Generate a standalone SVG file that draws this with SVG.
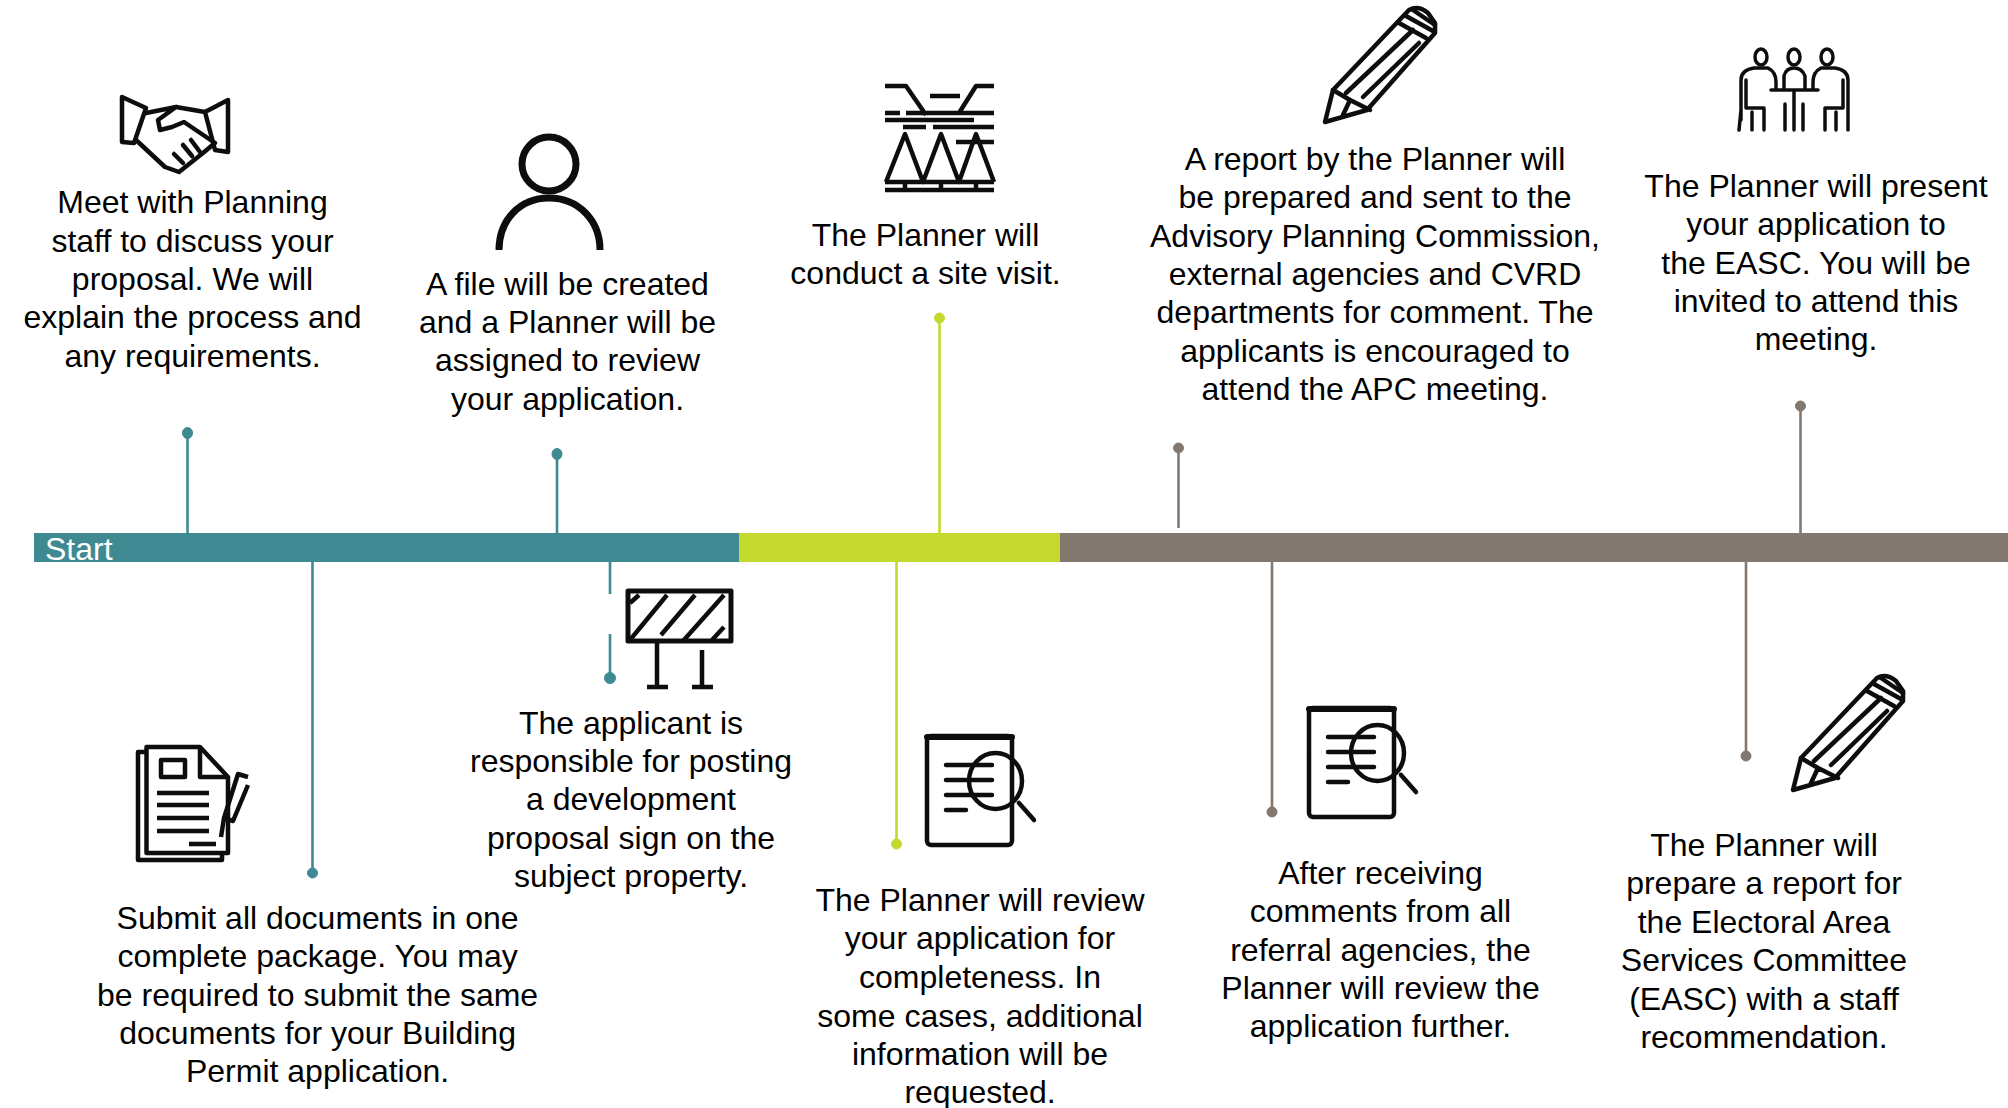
<svg xmlns="http://www.w3.org/2000/svg" xmlns:xlink="http://www.w3.org/1999/xlink" width="2008" height="1108" viewBox="0 0 2008 1108">
<style>
text{font-family:"Liberation Sans",Arial,sans-serif;font-size:32px;fill:#000}
.b text,text.b{text-anchor:middle}
.ic{fill:none;stroke:#111;stroke-width:4.500;stroke-linecap:round;stroke-linejoin:round;filter:url(#soft)}
.t{stroke:#3f8a92;fill:#3f8a92}.g{stroke:#c4d92e;fill:#c4d92e}.r{stroke:#82786f;fill:#82786f}
.st{stroke-width:2.6;fill:none}
</style>
<defs>
<filter id="soft" x="-5%" y="-5%" width="110%" height="110%"><feGaussianBlur stdDeviation="0.6"/></filter>
<clipPath id="signclip"><rect x="626" y="591" width="105" height="50"/></clipPath>
<g id="pencil">
<path d="M0 115L8 83L84 3Q93 -2 103 6L110 16V26L42 103Z"/>
<path d="M8 83L25 93L45 103M25 93L18 108M21 86L88 23M38 90L94 36M74 16L101 31M81 9L108 24M88 3L110 18"/>
</g>
<g id="magdoc">
<rect x="1" y="1" width="85" height="109" rx="4"/>
<path d="M1 2H86" stroke-width="6"/>
<path d="M20 30H66M20 45H66M20 60H66M20 75H40"/>
<ellipse cx="69.500" cy="46" rx="26.500" ry="28"/>
<path d="M93 68L108 85"/>
</g>
</defs>
<g id="connectors">
<g class="t">
<path class="st" d="M187.500 433V533M557 454V533M312.500 562V873M610 562V594M610 634V678"/>
<ellipse cx="187.500" cy="433" rx="5" ry="5.500"/><ellipse cx="557" cy="454" rx="5" ry="5.500"/><circle cx="312.500" cy="873" r="5"/><ellipse cx="610" cy="678" rx="5.500" ry="5.500"/>
</g>
<g class="g">
<path class="st" d="M939.500 318V533M896.500 562V844"/>
<circle cx="939.500" cy="318" r="5"/><circle cx="896.500" cy="844" r="5"/>
</g>
<g class="r">
<path class="st" d="M1178.500 448V528M1800.500 406V533M1272 562V812M1746 562V756"/>
<circle cx="1178.500" cy="448" r="5"/><circle cx="1800.500" cy="406" r="5"/><circle cx="1272" cy="812" r="5"/><circle cx="1746" cy="756" r="5"/>
</g>
</g>
<g id="timeline">
<rect x="34" y="533" width="705" height="29" fill="#3f8a92"/>
<rect x="739" y="533" width="321" height="29" fill="#c4d92e"/>
<rect x="1060" y="533" width="948" height="29" fill="#82786f"/>
<text x="45" y="560" style="fill:#fff">Start</text>
</g>
<g id="n1" class="b">
<g class="ic"><path d="M122 97L146 108L134 143L122 142ZM228 100L205 112L215 150L228 152Z"/><path d="M146 113L176 107L205 112M176 107L158 120L160 130L172 127L184 122L215 143M136 140L165 167L179 172L203 153L215 143M174 154L183 163M183 145L192 156M191 140L200 152"/></g>
<text x="192.500" y="213">Meet with Planning</text><text x="192.500" y="252">staff to discuss your</text><text x="192.500" y="290">proposal. We will</text><text x="192.500" y="328">explain the process and</text><text x="192.500" y="366.600">any requirements.</text>
</g>
<g id="n2" class="b">
<g class="ic" style="stroke-width:7;stroke-linecap:butt"><circle cx="549" cy="164" r="27"/><path d="M499 250C499 220 520 198 549 198S600 220 600 250"/></g>
<text x="567.500" y="295">A file will be created</text><text x="567.500" y="333">and a Planner will be</text><text x="567.500" y="371">assigned to review</text><text x="567.500" y="410">your application.</text>
</g>
<g id="n3" class="b">
<g class="ic" style="stroke-linecap:butt"><path d="M885 86H906L926 115M994 86H976L959 113M930 96H960M885 113H900M906 113H994M885 120H974M903 127H926M933 127H994M956 142H994"/><path d="M886 182L905 134L923 182L941 134L959 182L976 134L994 182"/><path d="M885 182H994M885 190H994M905 182V190M941 182V190M976 182V190"/></g>
<text x="925.500" y="246">The Planner will</text><text x="925.500" y="284">conduct a site visit.</text>
</g>
<g id="n4" class="b">
<use xlink:href="#pencil" href="#pencil" x="1325" y="7" class="ic"/>
<text x="1375" y="170">A report by the Planner will</text><text x="1375" y="208.400">be prepared and sent to the</text><text x="1375" y="246.800">Advisory Planning Commission,</text><text x="1375" y="285.200">external agencies and CVRD</text><text x="1375" y="323">departments for comment. The</text><text x="1375" y="362">applicants is encouraged to</text><text x="1375" y="400.400">attend the APC meeting.</text>
</g>
<g id="n5" class="b">
<g class="ic" style="stroke-width:3.500"><ellipse cx="1761" cy="57" rx="6" ry="8"/><ellipse cx="1794" cy="57" rx="6" ry="8"/><ellipse cx="1827" cy="57" rx="6" ry="8"/><path d="M1741 120V80Q1741 70 1754 68H1768Q1776 72 1776 82V88M1848 120V80Q1848 70 1835 68H1821Q1813 72 1813 82V88M1784 88V76Q1786 68 1794 68T1805 76V88M1746 80V108H1764V130M1843 80V108H1825V130M1771 90H1818M1794 90V130M1785 130V104M1803 130V104M1741 110L1739 130M1848 110L1848 130M1752 112V130M1836 112V130"/></g>
<text x="1816" y="197">The Planner will present</text><text x="1816" y="235.400">your application to</text><text x="1816" y="273.800">the EASC. You will be</text><text x="1816" y="312.200">invited to attend this</text><text x="1816" y="349.600">meeting.</text>
</g>
<g id="n6" class="b">
<g class="ic" style="stroke-linecap:butt"><path d="M146 752H138V860H222V853"/><path d="M146.500 747H200L228 777V853H146.500Z"/><path d="M200 747V777H228M161 760H185V777H161Z"/><path d="M157 793H209M157 805H209M157 818H209M157 831H209M189 844H216"/><path d="M221 837L224 818L238 774L248 777M224 818L233 821L248 785"/></g>
<text x="317.600" y="929">Submit all documents in one</text><text x="317.600" y="967.400">complete package. You may</text><text x="317.600" y="1005.800">be required to submit the same</text><text x="317.600" y="1044.200">documents for your Building</text><text x="317.600" y="1081.600">Permit application.</text>
</g>
<g id="n7" class="b">
<g class="ic" style="stroke-linecap:butt"><rect x="628" y="591" width="103" height="50" style="stroke-width:5"/><g clip-path="url(#signclip)"><path d="M630 603L639 595M630 640L667 595M661 635L695 595M683 641L724 595M712 640L724 627"/></g><path d="M657 642V686M702 650V686M647 687H668M692 687H713"/></g>
<text x="631" y="734">The applicant is</text><text x="631" y="772">responsible for posting</text><text x="631" y="810">a development</text><text x="631" y="849">proposal sign on the</text><text x="631" y="887">subject property.</text>
</g>
<g id="n8" class="b">
<use xlink:href="#magdoc" href="#magdoc" x="926" y="735" class="ic"/>
<text x="980" y="911">The Planner will review</text><text x="980" y="949.400">your application for</text><text x="980" y="987.800">completeness. In</text><text x="980" y="1026.600">some cases, additional</text><text x="980" y="1064.600">information will be</text><text x="980" y="1102.500">requested.</text>
</g>
<g id="n9" class="b">
<use xlink:href="#magdoc" href="#magdoc" x="1308" y="707" class="ic"/>
<text x="1380.500" y="883.600">After receiving</text><text x="1380.500" y="922">comments from all</text><text x="1380.500" y="961">referral agencies, the</text><text x="1380.500" y="998.800">Planner will review the</text><text x="1380.500" y="1037.200">application further.</text>
</g>
<g id="n10" class="b">
<use xlink:href="#pencil" href="#pencil" x="1793" y="675" class="ic"/>
<text x="1764" y="856">The Planner will</text><text x="1764" y="894.400">prepare a report for</text><text x="1764" y="932.800">the Electoral Area</text><text x="1764" y="971.200">Services Committee</text><text x="1764" y="1009.600">(EASC) with a staff</text><text x="1764" y="1048">recommendation.</text>
</g>
</svg>
